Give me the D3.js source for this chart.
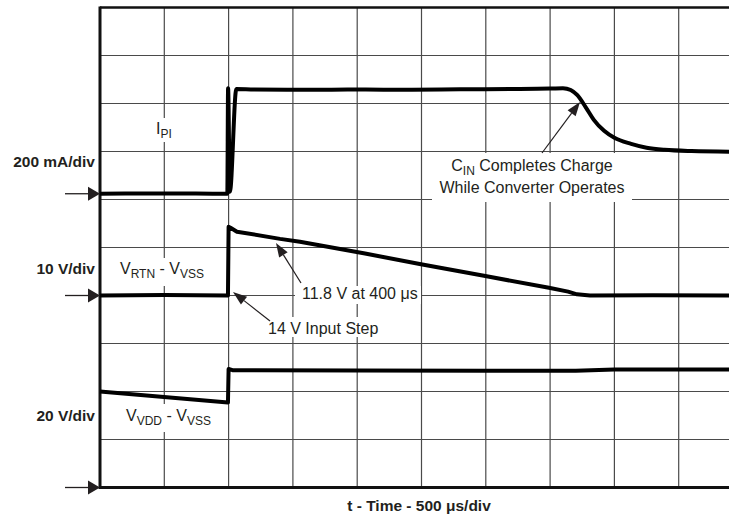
<!DOCTYPE html>
<html><head><meta charset="utf-8">
<script src="https://cdn.jsdelivr.net/npm/d3@7"></script>
<style>
body{margin:0;background:#fff}
svg{display:block}
text{font-family:Arial,"Liberation Sans",Helvetica,sans-serif;fill:#231f20}
</style>
</head><body>
<svg id="c" width="729" height="516"></svg>
<script>
// ---- data (time in µs from the left edge of the screen) ----
const gridDivs = [1,2,3,4,5,6,7,8,9];
const timeTicks = [500,1000,1500,2000,2500,3000,3500,4000,4500];

// I_PI in mA (200 mA/div)
const ipiTime = [0, 500, 990, 996, 1010, 1060, 1200, 1600, 2000, 2400, 2800, 3200, 3500, 3600, 3660, 3710, 3780, 3840, 3920, 4000, 4130, 4250, 4390, 4600, 5000];
const ipiMA   = [0, 1, 0, 440, 8, 436, 434, 433, 434, 433, 435, 436, 438, 440, 432, 412, 358, 308, 262, 233, 208, 192, 183, 178, 175];

// V_RTN - V_VSS in V (10 V/div)
const rtnTime = [0, 500, 995, 1000, 1015, 1065, 1400, 1555, 2061, 2496, 2986, 3491, 3640, 3709, 3810, 4300, 5000];
const rtnV    = [0, 0.1, 0, 14.3, 14.1, 13.3, 11.8, 11.2, 8.75, 6.5, 4.1, 1.6, 0.8, 0.25, 0, 0.05, 0];

// V_VDD - V_VSS in V (20 V/div)
const vddTime = [0, 995, 1000, 1030, 2000, 3000, 3700, 4000, 5000];
const vddV    = [40, 35.4, 49.4, 48.9, 48.8, 48.6, 48.6, 49.2, 49.2];

// channel setup: reference level (screen divisions from bottom) and units per division
const channels = [
  {name:"ipi", t:ipiTime, v:ipiMA, ref:6.12, perDiv:200, scaleLabel:"200 mA/div"},
  {name:"rtn", t:rtnTime, v:rtnV, ref:4.0, perDiv:10, scaleLabel:"10 V/div"},
  {name:"vdd", t:vddTime, v:vddV, ref:0, perDiv:20, scaleLabel:"20 V/div"}
];

// ---- layout ----
const svg = d3.select("#c");
const x = d3.scaleLinear().domain([0,5000]).range([100, 743]);
const yDiv = d3.scaleLinear().domain([0,10]).range([487.5, 7.5]);

// grid
const grid = svg.append("g").attr("stroke","#4a4a4a").attr("stroke-width",1.2);
grid.selectAll("line.v").data(timeTicks).join("line")
  .attr("x1",d=>x(d)).attr("x2",d=>x(d)).attr("y1",yDiv(10)).attr("y2",yDiv(0));
grid.selectAll("line.h").data(gridDivs).join("line")
  .attr("x1",x(0)).attr("x2",729).attr("y1",d=>yDiv(d)).attr("y2",d=>yDiv(d));

// white label boxes (hide grid behind annotations)
const boxes = [
  [149,118,28,24],
  [114,258,100,28],
  [120,404,100,28],
  [432,153,200,49],
  [295,286,126,18],
  [265,317,113,20]
];
svg.append("g").selectAll("rect").data(boxes).join("rect")
  .attr("x",d=>d[0]).attr("y",d=>d[1]).attr("width",d=>d[2]).attr("height",d=>d[3])
  .attr("fill","#fff");

// frame
svg.append("line").attr("x1",x(0)).attr("x2",729).attr("y1",yDiv(10)).attr("y2",yDiv(10))
  .attr("stroke","#111").attr("stroke-width",2.5);
svg.append("line").attr("x1",x(0)).attr("x2",x(0)).attr("y1",yDiv(10)-1).attr("y2",yDiv(0)+1.5)
  .attr("stroke","#111").attr("stroke-width",3);
svg.append("line").attr("x1",x(0)).attr("x2",729).attr("y1",yDiv(0)).attr("y2",yDiv(0))
  .attr("stroke","#111").attr("stroke-width",3);

// traces
channels.forEach(ch=>{
  const pts = ch.t.map((t,i)=>[x(t), yDiv(ch.ref + ch.v[i]/ch.perDiv)]);
  const gen = d3.line().curve(ch.name==="ipi" ? d3.curveMonotoneX : d3.curveLinear);
  svg.append("path").attr("d", gen(pts))
    .attr("fill","none").attr("stroke","#000").attr("stroke-width",4)
    .attr("stroke-linejoin","round").attr("stroke-linecap","butt");
});

// left reference arrows
channels.forEach(ch=>{
  const yy = yDiv(ch.ref);
  svg.append("line").attr("x1",65).attr("x2",90).attr("y1",yy).attr("y2",yy)
    .attr("stroke","#231f20").attr("stroke-width",1.3);
  svg.append("path").attr("d",`M88,${yy-7}L100,${yy}L88,${yy+7}Z`).attr("fill","#231f20");
});

// channel scale labels
const scaleY = {ipi:166.5, rtn:274, vdd:421};
svg.append("g").selectAll("text").data(channels).join("text")
  .attr("x",95).attr("y",d=>scaleY[d.name]).attr("text-anchor","end")
  .attr("font-size",15.5).attr("font-weight","bold").text(d=>d.scaleLabel);

// x title
svg.append("text").attr("x",419).attr("y",510.5).attr("text-anchor","middle")
  .attr("font-size",15.5).attr("font-weight","bold").text("t - Time - 500 \u03BCs/div");

// trace labels with subscripts
function subLabel(xx, yy, parts, anchor){
  const t = svg.append("text").attr("x",xx).attr("y",yy).attr("font-size",16)
    .attr("text-anchor",anchor||"start");
  let sub=false;
  parts.forEach(p=>{
    const isSub = p[1];
    const ts = t.append("tspan").text(p[0]);
    if(isSub && !sub){ ts.attr("dy",4).attr("font-size",12); sub=true; }
    else if(isSub){ ts.attr("font-size",12); }
    else if(!isSub && sub){ ts.attr("dy",-4); sub=false; }
  });
  return t;
}
subLabel(156,133.5,[["I",0],["PI",1]]);
subLabel(120,273.5,[["V",0],["RTN",1],[" - V",0],["VSS",1]]);
subLabel(126,421,[["V",0],["VDD",1],[" - V",0],["VSS",1]]);
subLabel(532,170.5,[["C",0],["IN",1],[" Completes Charge",0]],"middle");
svg.append("text").attr("x",532).attr("y",192.5).attr("font-size",16).attr("text-anchor","middle")
  .text("While Converter Operates");
svg.append("text").attr("x",302).attr("y",298.5).attr("font-size",16).text("11.8 V at 400 \u03BCs");
svg.append("text").attr("x",268).attr("y",333.5).attr("font-size",16).text("14 V Input Step");

// annotation arrows
function arrow(x1,y1,x2,y2){
  const a = Math.atan2(y2-y1,x2-x1), L=14, W=5;
  const bx = x2-L*Math.cos(a), by = y2-L*Math.sin(a);
  svg.append("line").attr("x1",x1).attr("y1",y1).attr("x2",bx).attr("y2",by)
    .attr("stroke","#231f20").attr("stroke-width",1.2);
  const px=-Math.sin(a)*W, py=Math.cos(a)*W;
  svg.append("path").attr("d",`M${x2},${y2}L${bx+px},${by+py}L${bx-px},${by-py}Z`).attr("fill","#231f20");
}
arrow(542,153, 580,102);
arrow(301,283, 276,243);
arrow(270,321, 233,292);
</script>
</body></html>
